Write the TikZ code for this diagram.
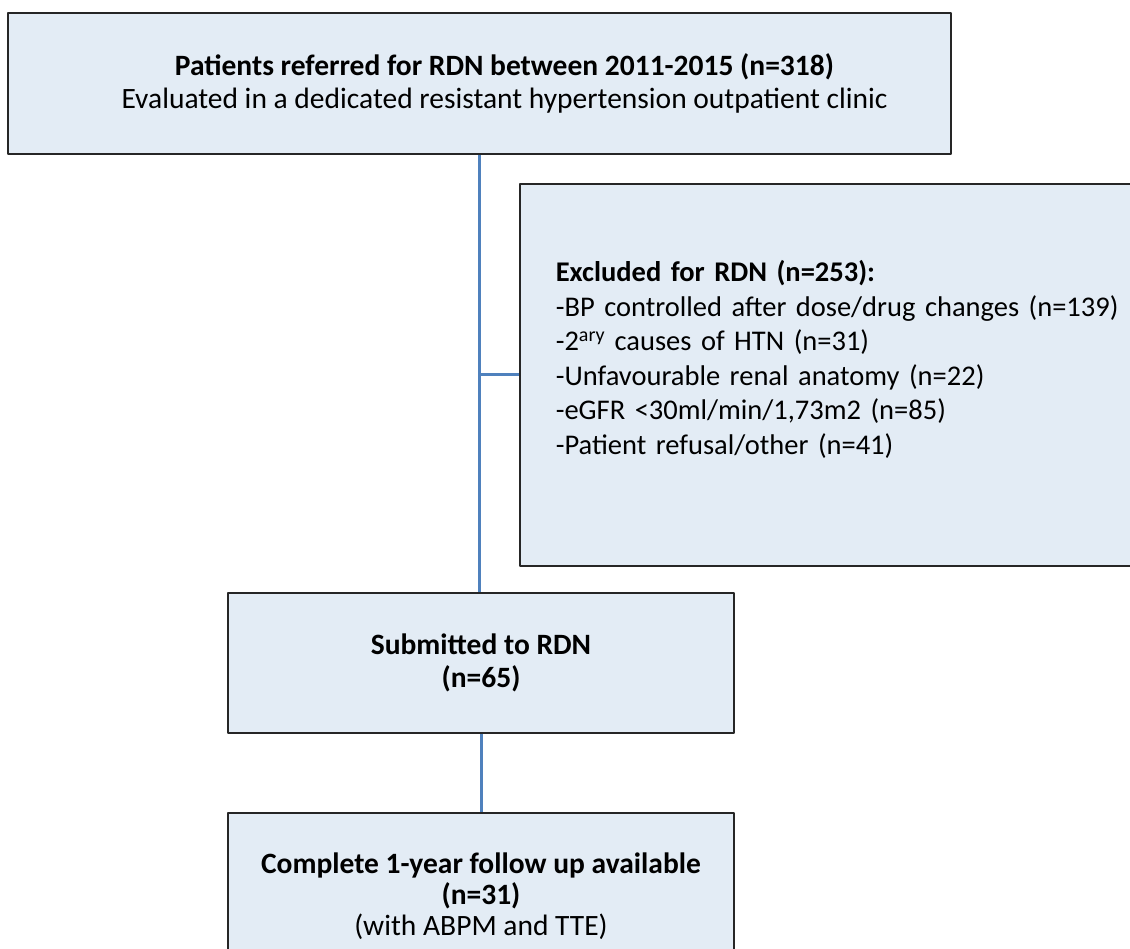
\documentclass[tikz,border=0pt]{standalone}
\usepackage{fontspec}
\setmainfont{Carlito}
\usepackage{tikz}
\usetikzlibrary{positioning}
\definecolor{boxfill}{HTML}{E3ECF5}
\definecolor{connblue}{HTML}{4F81BD}

\begin{document}
\begin{tikzpicture}[x=1pt,y=-1pt,line cap=round,line join=round,
  flowbox/.style={draw=black!85,line width=1.6pt,fill=boxfill,align=center,inner sep=0pt,
    font=\fontsize{29.5}{33}\selectfont},
  conn/.style={draw=connblue,line width=3pt,line cap=butt}]
\useasboundingbox (0,0) rectangle (1130,949);
\node[flowbox,minimum width=943,minimum height=141] (referred) at (479.5,83.5)
  {\hspace*{50pt}\textbf{Patients referred for RDN between 2011-2015 (n=318)}\\
   \hspace*{50pt}Evaluated in a dedicated resistant hypertension outpatient clinic};
\node[flowbox,minimum height=382,align=left,anchor=north west,text width=640pt,
  inner xsep=36pt,font=\fontsize{28.5}{34.5}\selectfont] (excluded) at (519,183)
  {\textbf{Excluded for RDN (n=253):}\\
   -BP controlled after dose/drug changes (n=139)\\
   -2\textsuperscript{ary} causes of HTN (n=31)\\
   -Unfavourable renal anatomy (n=22)\\
   -eGFR <30ml/min/1,73m2 (n=85)\\
   -Patient refusal/other (n=41)\\
   \mbox{}};
\node[flowbox,minimum width=506,minimum height=140] (submitted) at (481,663)
  {\textbf{Submitted to RDN}\\ \textbf{(n=65)}};
\node[flowbox,minimum width=506,minimum height=166,anchor=north,
  font=\fontsize{29.5}{31}\selectfont] (followup) at (481,812)
  {\textbf{Complete 1-year follow up available}\\ \textbf{(n=31)}\\ (with ABPM and TTE)};
\draw[conn] (referred.south) -- (referred.south |- submitted.north);
\draw[conn] (excluded.west) -- (excluded.west -| referred.south);
\draw[conn] (submitted.south) -- (followup.north);
\end{tikzpicture}
\end{document}
